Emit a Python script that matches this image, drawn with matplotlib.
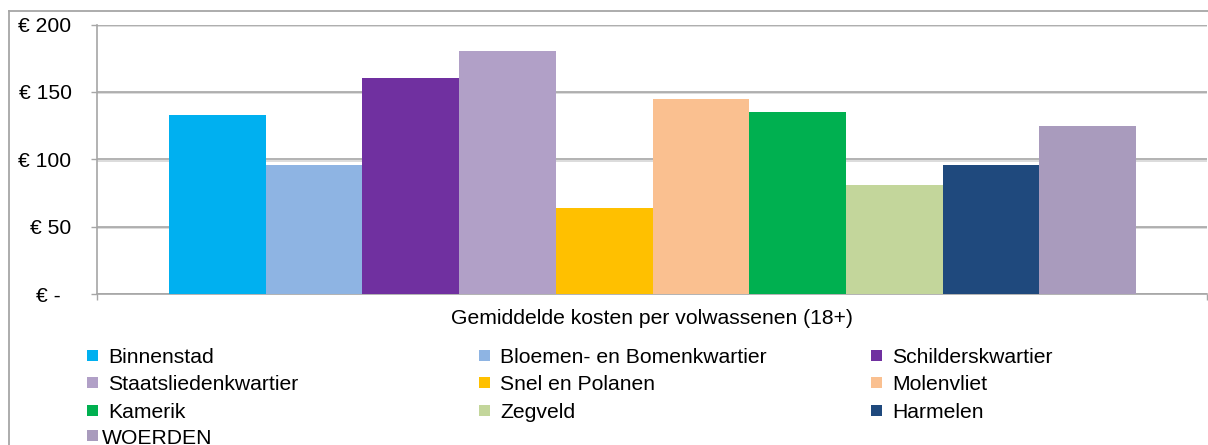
import matplotlib
matplotlib.use("Agg")
import matplotlib.pyplot as plt
from matplotlib.lines import Line2D
import matplotlib.patheffects as pe
import matplotlib.transforms as mtransforms

plt.rcParams['font.family'] = ['Liberation Sans', 'DejaVu Sans']

# Data
categories = ["Binnenstad", "Bloemen- en Bomenkwartier", "Schilderskwartier",
              "Staatsliedenkwartier", "Snel en Polanen", "Molenvliet",
              "Kamerik", "Zegveld", "Harmelen", "WOERDEN"]
values = [133, 96, 160, 180, 64, 145, 135, 81, 96, 125]
colors = ["#00B0F0", "#8EB4E3", "#7030A0", "#B1A0C7", "#FFC000", "#FAC090",
          "#00B050", "#C3D69B", "#1F497D", "#A99BBD"]
ytick_vals = [0, 50, 100, 150, 200]
ytick_labels = ["€ -", "€ 50", "€ 100", "€ 150", "€ 200"]
xlabel = "Gemiddelde kosten per volwassenen (18+)"

W, H = 1208, 445
DPI = 100
fig = plt.figure(figsize=(W / DPI, H / DPI), dpi=DPI)
ax = fig.add_axes([97 / W, 1 - 294 / H, (1207 - 97) / W, (294 - 24.5) / H])

FS = 15.2
grid_c = "#A6A6A6"

bars = []
for i, (v, c, lab) in enumerate(zip(values, colors, categories)):
    b = ax.bar(i, v, width=1.0, color=c, label=lab, zorder=3, linewidth=0)
    bars.append(b)

xmin, xmax = -1.245, 10.234
ax.set_xlim(xmin, xmax)
ax.set_ylim(0, 200)
ax.set_yticks(ytick_vals)
ax.set_yticklabels(ytick_labels, fontsize=FS)
ax.set_xticks([xmin, xmax])
ax.set_xticklabels(["", ""])
ax.tick_params(axis="both", direction="out", length=4.3, width=1, color=grid_c)
ax.tick_params(axis="y", pad=14.0)
ax.set_xlabel(xlabel, fontsize=FS, labelpad=3)

# shift "€ -" label left a bit (trailing padding in original format)
lbl0 = ax.get_yticklabels()[0]
lbl0.set_transform(lbl0.get_transform() + mtransforms.ScaledTranslation(-11 / DPI, 0, fig.dpi_scale_trans))

ax.grid(axis="y", color=grid_c, linewidth=1.2, zorder=0)
for gl in ax.get_ygridlines():
    gl.set_path_effects([pe.SimpleLineShadow(offset=(0, -1.1), shadow_color="#D5D5D5", alpha=1.0), pe.Normal()])
ax.set_axisbelow(True)
for s in ["top", "right"]:
    ax.spines[s].set_visible(False)
for s in ["left", "bottom"]:
    ax.spines[s].set_color(grid_c)
    ax.spines[s].set_linewidth(1.2)

# Legends (row-major layout as in original)
def make_leg(idx, x_px, y_px, textpad=0.47):
    h = [bars[i] for i in idx]
    l = [categories[i] for i in idx]
    leg = fig.legend(h, l, loc="center left", bbox_to_anchor=(x_px / W, 1 - y_px / H),
                     bbox_transform=fig.transFigure, frameon=False, fontsize=FS,
                     handlelength=0.52, handleheight=0.425, handletextpad=textpad,
                     labelspacing=0.40, borderpad=0, borderaxespad=0)
    return leg

make_leg([0, 3, 6], 87, 385)
make_leg([1, 4, 7], 479, 385)
make_leg([2, 5, 8], 871, 385)
make_leg([9], 87, 438, textpad=0.2)

# outer chart border
fig.add_artist(Line2D([8.5 / W, 8.5 / W], [-0.1, 1 - 10.5 / H], transform=fig.transFigure,
                      color="#A6A6A6", linewidth=1.3))
fig.add_artist(Line2D([8.5 / W, 1.1], [1 - 10.5 / H, 1 - 10.5 / H], transform=fig.transFigure,
                      color="#A6A6A6", linewidth=1.3))

fig.savefig("out.png", dpi=DPI)
